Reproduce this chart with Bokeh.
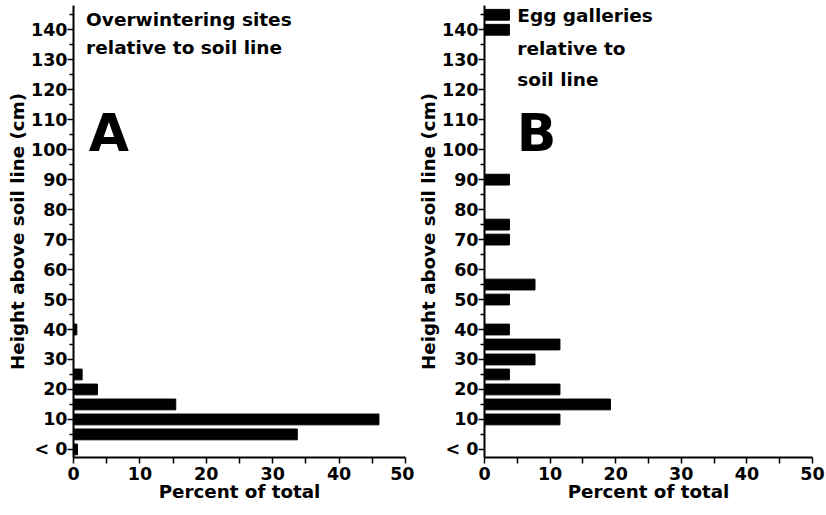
from bokeh.plotting import figure
from bokeh.models import Range1d, FixedTicker
from bokeh.layouts import row
from bokeh.core.properties import value
from bokeh.embed import file_html
from bokeh.resources import INLINE

# ---- data ----
heights_a = [0, 5, 10, 15, 20, 25, 40]
percent_a = [0.6, 33.7, 46.0, 15.4, 3.6, 1.3, 0.5]

heights_b = [10, 15, 20, 25, 30, 35, 40, 50, 55, 70, 75, 90, 140, 145]
percent_b = [11.5, 19.2, 11.5, 3.8, 7.7, 11.5, 3.8, 3.8, 7.7, 3.8, 3.8, 3.8, 3.8, 3.8]

y_ticks = [0, 10, 20, 30, 40, 50, 60, 70, 80, 90, 100, 110, 120, 130, 140]
y_minor = [5, 15, 25, 35, 45, 55, 65, 75, 85, 95, 105, 115, 125, 135, 145]
y_labels = {0: "< 0"}
x_ticks = [0, 10, 20, 30, 40, 50]
x_minor = [5, 15, 25, 35, 45]

x_title = "Percent of total"
y_title = "Height above soil line (cm)"
notes_a = ["Overwintering sites", "relative to soil line"]
notes_b = ["Egg galleries", "relative to", "soil line"]

FONT = "DejaVu Sans"


def make_panel(heights, percents, width, left, right, notes, note_ys, note_x,
               letter, letter_x, letter_y):
    p = figure(width=width, height=512, output_backend="svg", toolbar_location=None,
               x_range=Range1d(0, 50), y_range=Range1d(-2.7, 148.1),
               min_border_left=left, min_border_right=right,
               min_border_top=5, min_border_bottom=55)
    p.outline_line_color = None
    p.xgrid.visible = False
    p.ygrid.visible = False
    p.background_fill_color = "white"
    p.border_fill_color = "white"

    p.hbar(y=heights, right=percents, left=0, height=3.6, color="black")

    for ax in (p.xaxis[0], p.yaxis[0]):
        ax.axis_line_width = 2
        ax.axis_line_color = "black"
        ax.major_tick_line_width = 1.5
        ax.minor_tick_line_width = 1.5
        ax.major_tick_in = 0
        ax.minor_tick_in = 0
        ax.major_tick_out = 6
        ax.major_label_text_font = FONT
        ax.major_label_text_font_style = "bold"
        ax.major_label_text_font_size = "17.5px"
        ax.major_label_text_color = "black"
        ax.axis_label_text_font = FONT
        ax.axis_label_text_font_style = "bold"
        ax.axis_label_text_font_size = "18.3px"
        ax.axis_label_text_color = "black"

    p.xaxis.ticker = FixedTicker(ticks=x_ticks, minor_ticks=x_minor)
    p.xaxis.minor_tick_out = 6
    p.xaxis.major_label_standoff = 3
    p.xaxis.axis_label_standoff = -2
    p.xaxis.axis_label = x_title

    p.yaxis.ticker = FixedTicker(ticks=y_ticks, minor_ticks=y_minor)
    p.yaxis.minor_tick_out = 4
    p.yaxis.major_label_standoff = 0
    p.yaxis.axis_label_standoff = 0
    p.yaxis.major_label_overrides = y_labels
    p.yaxis.axis_label = y_title

    p.text(x=[note_x] * len(notes), y=note_ys, text=notes,
           text_font=value(FONT), text_font_style="bold", text_font_size="18.5px",
           text_baseline="alphabetic", text_align="left", text_color="black")
    p.text(x=[letter_x], y=[letter_y], text=[letter],
           text_font=value(FONT), text_font_style="bold", text_font_size="52px",
           text_baseline="alphabetic", text_align="left", text_color="black")
    return p


pa = make_panel(heights_a, percent_a, 414, 73, 9, notes_a, [143.5, 134.1], 1.9,
                "A", 2.3, 105.4)
pb = make_panel(heights_b, percent_b, 412, 68, 14, notes_b, [144.6, 133.9, 123.3], 5.0,
                "B", 4.9, 105.7)

layout = row(pa, pb)
open("out.html", "w").write(file_html(layout, INLINE))
